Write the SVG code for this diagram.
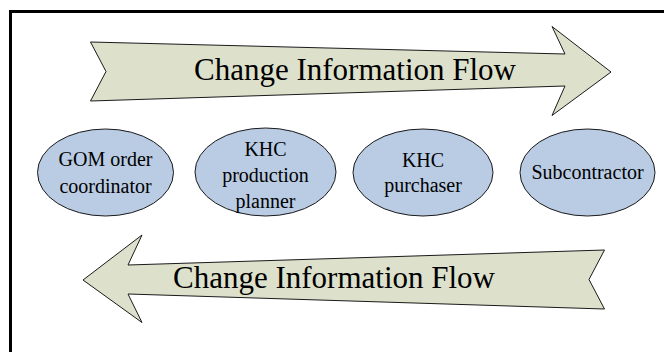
<svg xmlns="http://www.w3.org/2000/svg" width="664" height="352" viewBox="0 0 664 352">
  <style>
    .frame { fill: none; stroke: #000; stroke-width: 3; }
    .flow { fill: #dde1cb; stroke: #1a1a1a; stroke-width: 1; stroke-linejoin: miter; }
    .role { fill: #b9cce4; stroke: #1a1a1a; stroke-width: 1; }
    .big { font-family: "Liberation Serif", "Times New Roman", serif; font-size: 31px; fill: #000; }
    .lbl { font-family: "Liberation Serif", "Times New Roman", serif; font-size: 20px; fill: #000; text-anchor: middle; }
  </style>
  <rect width="664" height="352" fill="#fff"/>
  <!-- outer frame (right and bottom edges run past the canvas) -->
  <path class="frame" d="M10.5,360 V11.5 H680"/>

  <g id="connectors">
    <!-- rightward flow arrow -->
    <g id="flow-right">
      <path class="flow" d="M90.5,42 L565,54 L552,26.5 L611,72 L552,115.5 L565,86 L90.5,101 L106,71.5 Z"/>
      <text class="big" x="194" y="80">Change Information Flow</text>
    </g>
    <!-- leftward flow arrow -->
    <g id="flow-left">
      <path class="flow" d="M604.5,250 L589,279.5 L604.5,309 L128,294 L142,322.5 L83,280 L142,235 L128,265 Z"/>
      <text class="big" x="173" y="288">Change Information Flow</text>
    </g>
  </g>

  <g id="gom-order-coordinator">
    <ellipse class="role" cx="105.5" cy="172.5" rx="68" ry="43.5"/>
    <text class="lbl" x="105.5" y="165.5">GOM order</text>
    <text class="lbl" x="105.5" y="192.5">coordinator</text>
  </g>
  <g id="khc-production-planner">
    <ellipse class="role" cx="265.5" cy="172" rx="70.5" ry="44"/>
    <text class="lbl" x="265.5" y="155.5">KHC</text>
    <text class="lbl" x="265.5" y="181.5">production</text>
    <text class="lbl" x="265.5" y="207.5">planner</text>
  </g>
  <g id="khc-purchaser">
    <ellipse class="role" cx="423" cy="172.5" rx="70" ry="43.5"/>
    <text class="lbl" x="423" y="166.5">KHC</text>
    <text class="lbl" x="423" y="191.5">purchaser</text>
  </g>
  <g id="subcontractor">
    <ellipse class="role" cx="587.5" cy="172.5" rx="67.5" ry="43.5"/>
    <text class="lbl" x="587.5" y="179">Subcontractor</text>
  </g>
</svg>
